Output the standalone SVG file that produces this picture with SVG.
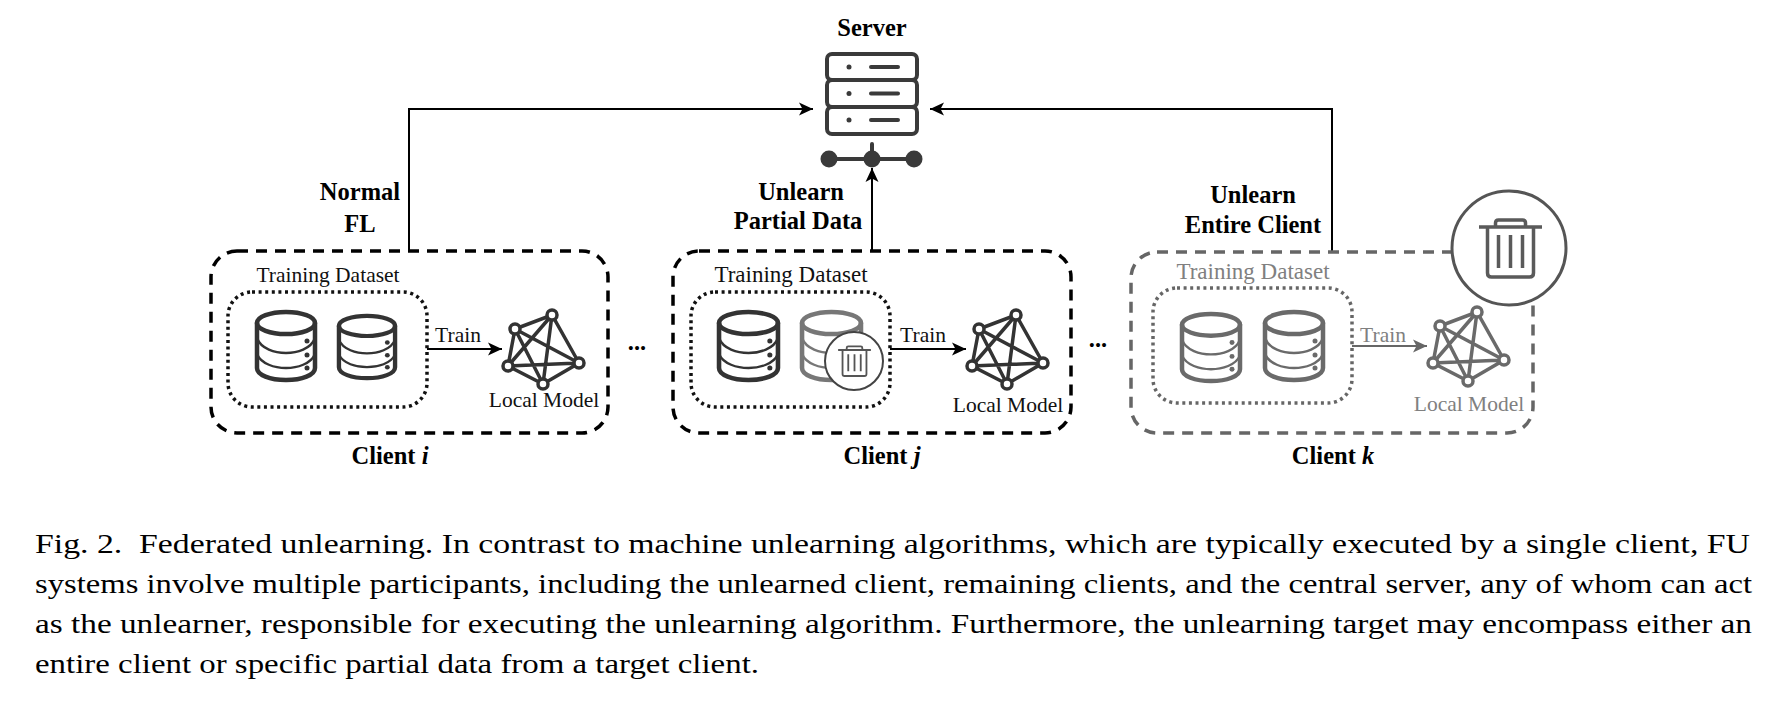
<svg xmlns="http://www.w3.org/2000/svg" width="1787" height="702" viewBox="0 0 1787 702">
<style>
text{font-family:"Liberation Serif","Times New Roman",serif;fill:#111}
.b{font-weight:700;font-size:24.5px;text-anchor:middle;fill:#000}
.l{font-size:21.500px;text-anchor:middle}
.t2{font-size:23px}
.g{fill:#808080}
.cap{font-size:27.500px;fill:#000}
.box{fill:none;stroke:#000;stroke-width:3.500;stroke-dasharray:11 8}
.dot{fill:none;stroke:#111;stroke-width:3.500;stroke-dasharray:3 3.600}
.gb{stroke:#666}
.k{color:#6a6a6a}
.d{color:#333}
.w{fill:none;stroke:#000;stroke-width:2}
.wg{fill:none;stroke:#666;stroke-width:2}
.ic{fill:none;stroke:#3a3a3a;stroke-width:4;stroke-linecap:round;stroke-linejoin:round}
</style>
<defs>
<marker id="a" markerUnits="userSpaceOnUse" markerWidth="16" markerHeight="16" refX="14" refY="8" orient="auto"><path d="M0,1.500L14,8L0,14.500L3.500,8Z" fill="#000"/></marker>
<marker id="ag" markerUnits="userSpaceOnUse" markerWidth="16" markerHeight="16" refX="14" refY="8" orient="auto"><path d="M0,1.500L14,8L0,14.500L3.500,8Z" fill="#666"/></marker>
<symbol id="db" viewBox="0 0 62 72" overflow="visible" preserveAspectRatio="none">
<g fill="none" stroke="currentColor" stroke-linecap="round">
<ellipse cx="31" cy="13" rx="29" ry="11" stroke-width="4.500"/>
<path d="M2,13V58C2,65 15,70 31,70S60,65 60,58V13" stroke-width="4.500"/>
<path d="M2,28C6,39 20,43 31,43S56,39 60,28M2,44C6,54 20,58 31,58S56,54 60,44" stroke-width="2.400"/>
</g>
<circle cx="52" cy="31" r="2.500" fill="currentColor"/><circle cx="52" cy="45" r="2.500" fill="currentColor"/><circle cx="52" cy="58" r="2.500" fill="currentColor"/>
</symbol>
<g id="net" fill="#fff" stroke="currentColor" stroke-width="3.500">
<path fill="none" d="M515,329L552,315L579,363L543,384L508,366ZM515,329L579,363M515,329L543,384M552,315L543,384M552,315L508,366M508,366L579,363"/>
<circle cx="515" cy="329" r="5"/><circle cx="552" cy="315" r="5"/><circle cx="579" cy="363" r="5"/><circle cx="543" cy="384" r="5"/><circle cx="508" cy="366" r="5"/>
</g>
<g id="trash" fill="none" stroke="currentColor" stroke-width="3.500" stroke-linejoin="round">
<path d="M-31.500,-25H31.500M-23,-25V21Q-23,25 -19,25H19Q23,25 23,21V-25M-15,-25V-29Q-15,-32 -12,-32H12Q15,-32 15,-29V-25M-12,-17V16M0,-17V16M12,-17V16"/>
</g>
</defs>

<g id="connectors">
<path class="w" d="M409,251V109H813" marker-end="url(#a)"/>
<path class="w" d="M1332,251V109H930" marker-end="url(#a)"/>
<path class="w" d="M872,251V168" marker-end="url(#a)"/>
<path class="w" d="M427,349H502" marker-end="url(#a)"/>
<path class="w" d="M890,349H966" marker-end="url(#a)"/>
<path class="wg" d="M1352,346H1427" marker-end="url(#ag)"/>
</g>

<g id="server">
<text class="b" x="872" y="36">Server</text>
<g class="ic">
<rect x="827" y="54" width="90" height="26" rx="5"/><rect x="827" y="80" width="90" height="27" rx="5"/><rect x="827" y="107" width="90" height="27" rx="5"/>
<path d="M871,67H898M871,93.500H898M871,120H898"/>
<path d="M872,144V159M829,159H914"/>
</g>
<g fill="#3a3a3a"><circle cx="849" cy="67" r="2.500"/><circle cx="849" cy="93.500" r="2.500"/><circle cx="849" cy="120" r="2.500"/>
<circle cx="829" cy="159" r="8.500"/><circle cx="872" cy="159" r="8.500"/><circle cx="914" cy="159" r="8.500"/></g>
</g>

<g id="label-normal"><text class="b" x="360" y="200">Normal</text><text class="b" x="360" y="232">FL</text></g>
<g id="label-partial"><text class="b" x="801" y="200">Unlearn</text><text class="b" x="798" y="229">Partial Data</text></g>
<g id="label-entire"><text class="b" x="1253" y="203">Unlearn</text><text class="b" x="1253" y="233">Entire Client</text></g>

<g id="client-i">
<rect class="box" x="211" y="251" width="397" height="182" rx="26"/>
<rect class="dot" x="228" y="292" width="199" height="115" rx="24"/>
<text class="l" x="328" y="282">Training Dataset</text>
<use href="#db" x="255" y="310" width="62" height="72" class="d"/>
<use href="#db" x="337" y="314" width="60" height="66" class="d"/>
<text class="l" x="458" y="342">Train</text>
<use href="#net" class="d"/>
<text class="l" x="544" y="407">Local Model</text>
<text class="b" x="390" y="464">Client <tspan font-style="italic">i</tspan></text>
</g>

<text id="dots-1" class="b" x="637" y="350">...</text>

<g id="client-j">
<rect class="box" x="673" y="251" width="398" height="182" rx="26"/>
<rect class="dot" x="691" y="292" width="199" height="115" rx="24"/>
<text class="l t2" x="791" y="282">Training Dataset</text>
<use href="#db" x="717" y="310" width="63" height="72" class="d"/>
<use href="#db" x="800" y="310" width="63" height="72" style="color:#777"/>
<circle cx="854" cy="361" r="29" fill="#fff" stroke="#444" stroke-width="2"/>
<use href="#trash" transform="translate(854.500 363) scale(.52)" style="color:#555"/>
<text class="l" x="923" y="342">Train</text>
<use href="#net" x="464" class="d"/>
<text class="l" x="1008" y="412">Local Model</text>
<text class="b" x="882" y="464">Client <tspan font-style="italic">j</tspan></text>
</g>

<text id="dots-2" class="b" x="1098" y="347">...</text>

<g id="client-k">
<rect class="box gb" x="1131" y="252" width="402" height="181" rx="26"/>
<rect class="dot gb" x="1153" y="288" width="199" height="115" rx="24"/>
<text class="l t2 g" x="1253" y="279">Training Dataset</text>
<use href="#db" x="1180" y="312" width="62" height="71" class="k"/>
<use href="#db" x="1263" y="310" width="62" height="72" class="k"/>
<text class="l g" x="1383" y="342">Train</text>
<use href="#net" x="925" y="-3" class="k"/>
<text class="l g" x="1469" y="411">Local Model</text>
<text class="b" x="1333" y="464">Client <tspan font-style="italic">k</tspan></text>
<circle cx="1509" cy="248" r="57" fill="#fff" stroke="#555" stroke-width="3"/>
<use href="#trash" transform="translate(1510.500 252)" style="color:#5a5a5a"/>
</g>

<g id="caption">
<text class="cap" x="35" y="553" textLength="1715" lengthAdjust="spacingAndGlyphs" xml:space="preserve">Fig. 2.  Federated unlearning. In contrast to machine unlearning algorithms, which are typically executed by a single client, FU</text>
<text class="cap" x="35" y="593" textLength="1717" lengthAdjust="spacingAndGlyphs">systems involve multiple participants, including the unlearned client, remaining clients, and the central server, any of whom can act</text>
<text class="cap" x="35" y="633" textLength="1717" lengthAdjust="spacingAndGlyphs">as the unlearner, responsible for executing the unlearning algorithm. Furthermore, the unlearning target may encompass either an</text>
<text class="cap" x="35" y="673" textLength="724" lengthAdjust="spacingAndGlyphs">entire client or specific partial data from a target client.</text>
</g>
</svg>
